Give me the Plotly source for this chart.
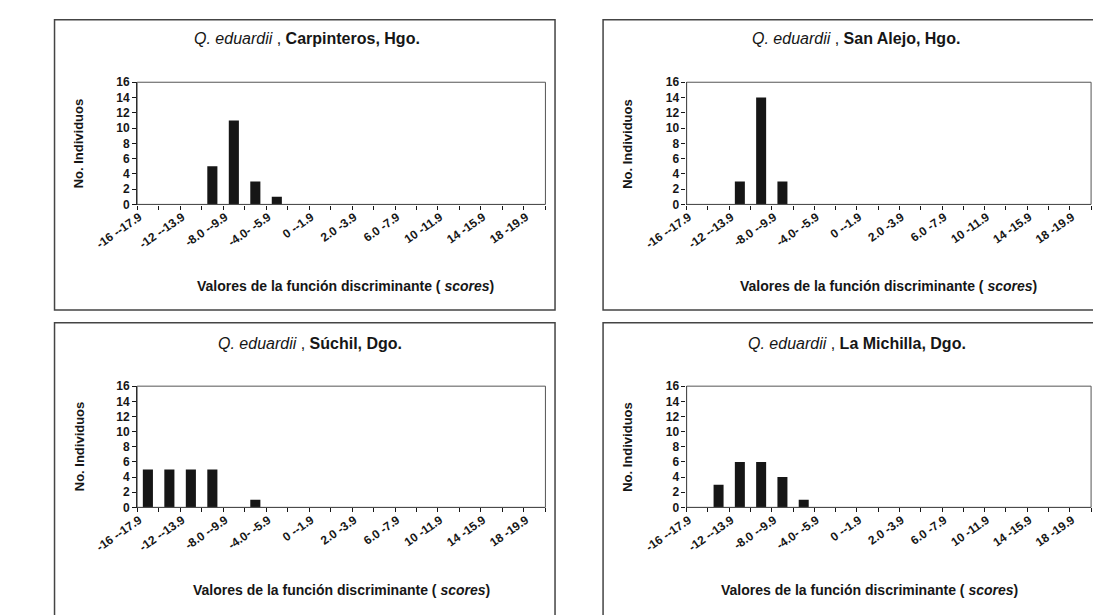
import plotly.graph_objects as go

W, H = 1093, 615

# Score classes of the discriminant function (19 classes)
categories = [
    "-16 --17.9", "-14 --15.9", "-12 --13.9", "-10 --11.9", "-8.0 --9.9",
    "-6.0 --7.9", "-4.0- -5.9", "-2.0 --3.9", "0 --1.9", "0 -1.9",
    "2.0 -3.9", "4.0 -5.9", "6.0 -7.9", "8.0 -9.9", "10 -11.9",
    "12 -13.9", "14 -15.9", "16 -17.9", "18 -19.9",
]

# Number of individuals per class, one list per locality
carpinteros = [0, 0, 0, 5, 11, 3, 1, 0, 0, 0, 0, 0, 0, 0, 0, 0, 0, 0, 0]
san_alejo   = [0, 0, 3, 14, 3, 0, 0, 0, 0, 0, 0, 0, 0, 0, 0, 0, 0, 0, 0]
suchil      = [5, 5, 5, 5, 0, 1, 0, 0, 0, 0, 0, 0, 0, 0, 0, 0, 0, 0, 0]
michilla    = [0, 3, 6, 6, 4, 1, 0, 0, 0, 0, 0, 0, 0, 0, 0, 0, 0, 0, 0]

localities = ["Carpinteros, Hgo.", "San Alejo, Hgo.", "Súchil, Dgo.", "La Michilla, Dgo."]
counts = [carpinteros, san_alejo, suchil, michilla]

y_ticks = [0, 2, 4, 6, 8, 10, 12, 14, 16]

FONT = "Liberation Sans, Arial, sans-serif"
INK = "#161616"


def px(x):
    return x / W


def py(y):
    return 1 - y / H


# pixel layout of each panel: box, plot area, title, axis titles
panels = [
    dict(box=(12, 13, 533, 310), plot=(98, 77, 523, 202), title=(275, 32),
         xtitle=(315, 285), ytitle=(37, 140)),
    dict(box=(583, 13, 1100, 310), plot=(670, 77, 1091, 202), title=(846, 32),
         xtitle=(880, 285), ytitle=(609, 140)),
    dict(box=(12, 323, 533, 625), plot=(98, 388, 523, 512), title=(278, 344),
         xtitle=(311, 597), ytitle=(38, 450)),
    dict(box=(583, 323, 1100, 625), plot=(670, 388, 1091, 512), title=(847, 344),
         xtitle=(860, 597), ytitle=(609, 450)),
]

fig = go.Figure()
idx = list(range(len(categories)))
# rotated labels sit with their end slightly left of the class centre
label_pos = [i - 0.4 for i in idx[::2]]

for i, (p, vals, loc) in enumerate(zip(panels, counts, localities)):
    n = "" if i == 0 else str(i + 1)
    fig.add_trace(go.Bar(
        x=idx, y=vals, xaxis="x" + n, yaxis="y" + n,
        marker=dict(color=INK, line=dict(width=0)),
        width=0.47, showlegend=False,
    ))
    x0, y0, x1, y1 = p["plot"]
    fig.layout["xaxis" + n] = dict(
        domain=[px(x0), px(x1)], anchor="y" + n,
        range=[-0.5, len(categories) - 0.5],
        tickmode="array", tickvals=label_pos, ticktext=categories[::2],
        tickangle=-35, ticks="", ticklen=0,
        minor=dict(tickmode="linear", tick0=-0.5, dtick=1, ticks="outside",
                   ticklen=4, tickcolor=INK, tickwidth=1, showgrid=False),
        showline=True, linecolor=INK, linewidth=1.3, mirror=False,
        showgrid=False, zeroline=False, fixedrange=True,
        tickfont=dict(family=FONT, size=12, color=INK, weight="bold"),
    )
    fig.layout["yaxis" + n] = dict(
        domain=[py(y1), py(y0)], anchor="x" + n,
        range=[0, 16], tickmode="array", tickvals=y_ticks,
        ticks="outside", ticklen=4, tickcolor=INK,
        showline=True, linecolor=INK, linewidth=1.3,
        showgrid=False, zeroline=False, fixedrange=True,
        tickfont=dict(family=FONT, size=12, color=INK, weight="bold"),
    )
    # plot-area frame (top and right edges)
    fig.add_shape(type="rect", xref="paper", yref="paper",
                  x0=px(x0), x1=px(x1), y0=py(y1), y1=py(y0),
                  line=dict(color="#555", width=1), layer="above")
    # chart box
    bx0, by0, bx1, by1 = p["box"]
    fig.add_shape(type="rect", xref="paper", yref="paper",
                  x0=px(bx0), x1=px(bx1), y0=py(by1), y1=py(by0),
                  line=dict(color="#444", width=1.5))
    tx, ty = p["title"]
    fig.add_annotation(
        xref="paper", yref="paper", x=px(tx), y=py(ty), showarrow=False,
        xanchor="center", yanchor="middle",
        text="<i>Q. eduardii</i> , <b>" + loc + "</b>",
        font=dict(family=FONT, size=16, color=INK),
    )
    xx, xy = p["xtitle"]
    fig.add_annotation(
        xref="paper", yref="paper", x=px(xx), y=py(xy), showarrow=False,
        xanchor="center", yanchor="middle",
        text="<b>Valores de la función discriminante ( <i>scores</i>)</b>",
        font=dict(family=FONT, size=14, color=INK),
    )
    yx, yy = p["ytitle"]
    fig.add_annotation(
        xref="paper", yref="paper", x=px(yx), y=py(yy), showarrow=False,
        xanchor="center", yanchor="middle",
        text="<b>No. Individuos</b>", textangle=-90,
        font=dict(family=FONT, size=13, color=INK),
    )

fig.update_layout(
    width=W, height=H, margin=dict(l=0, r=0, t=0, b=0),
    paper_bgcolor="white", plot_bgcolor="white", bargap=0.55,
)

fig.write_html("out.html", config=dict(displayModeBar=False))
